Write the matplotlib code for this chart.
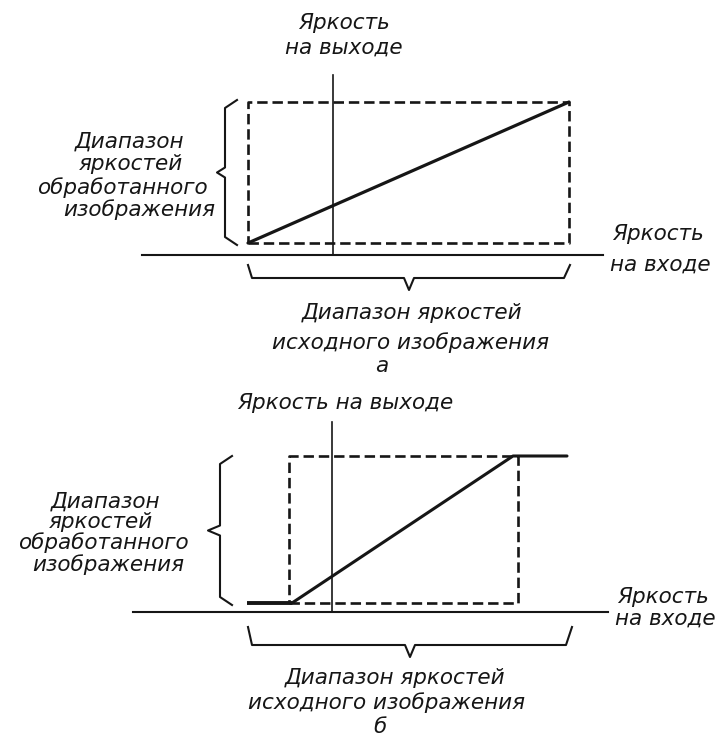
import matplotlib
matplotlib.use("Agg")
import matplotlib.pyplot as plt

plt.rcParams['font.family'] = ['DejaVu Sans']
plt.rcParams['lines.scale_dashes'] = False

INK = '#161616'

# ---------------- Diagram a: linear stretch ----------------
a_in_range = [248, 569]          # input brightness range (x)
a_out_range = [243, 102]         # processed output range (y: low, high)
a_curve_x = [248, 569]
a_curve_y = [243, 102]
a_haxis_x = [142, 603]
a_haxis_y = 255
a_vaxis_x = 333
a_vaxis_y = [75, 255]

# ---------------- Diagram b: stretch with clipping ----------------
b_in_range = [289, 518]
b_out_range = [603, 456]
b_curve_x = [247, 292, 513, 567]
b_curve_y = [603, 603, 456, 456]
b_haxis_x = [133, 608]
b_haxis_y = 612
b_vaxis_x = 332
b_vaxis_y = [422, 612]
b_brace_in = [248, 572]

# ---------------- Text ----------------
a_top_lines = ["Яркость", "на выходе"]
a_left_lines = ["Диапазон", "яркостей", "обработанного", "изображения"]
a_right_lines = ["Яркость", "на входе"]
a_bottom_lines = ["Диапазон яркостей", "исходного изображения"]
a_letter = "а"

b_top_lines = ["Яркость на выходе"]
b_left_lines = ["Диапазон", "яркостей", "обработанного", "изображения"]
b_right_lines = ["Яркость", "на входе"]
b_bottom_lines = ["Диапазон яркостей", "исходного изображения"]
b_letter = "б"

fig = plt.figure(figsize=(7.2, 7.39), dpi=100)
ax = fig.add_axes([0, 0, 1, 1])
ax.set_xlim(0, 720)
ax.set_ylim(739, 0)
ax.axis('off')

DASH = (0, (7.5, 3.5))


def dashed_rect(xr, yr):
    x0, x1 = xr
    yl, yh = yr
    ax.plot([x0, x1, x1, x0, x0], [yl, yl, yh, yh, yl], color=INK, lw=1.9,
            linestyle=DASH, solid_capstyle='butt')


def vbrace(x, y_top, y_bot, depth=8, hook=12):
    ym = (y_top + y_bot) / 2
    xs = [x + hook, x, x, x - depth, x, x, x + hook]
    ys = [y_top - 2, y_top + 6, ym - 5, ym, ym + 5, y_bot - 6, y_bot + 2]
    ax.plot(xs, ys, color=INK, lw=1.5, solid_joinstyle='round')


def hbrace(x0, x1, y_top, drop=13, tip=12):
    xm = (x0 + x1) / 2
    yb = y_top + drop
    xs = [x0, x0 + 4, xm - 5, xm, xm + 5, x1 - 6, x1]
    ys = [y_top, yb, yb, yb + tip, yb, yb, y_top]
    ax.plot(xs, ys, color=INK, lw=1.5, solid_joinstyle='round')


def text(x, y, s, ha='center', size=15.5):
    ax.text(x, y, s, ha=ha, va='center', fontsize=size, style='oblique',
            color=INK)

# ----- Diagram a -----
ax.plot(a_haxis_x, [a_haxis_y, a_haxis_y], color=INK, lw=1.5)
ax.plot([a_vaxis_x, a_vaxis_x], a_vaxis_y, color=INK, lw=1.2)
dashed_rect(a_in_range, a_out_range)
ax.plot(a_curve_x, a_curve_y, color=INK, lw=2.3, solid_capstyle='round')
vbrace(225, a_out_range[1], a_out_range[0])
hbrace(a_in_range[0], a_in_range[1] + 1, 265)

for s, y in zip(a_top_lines, [23, 48]):
    text(344, y, s)
for s, x, y in zip(a_left_lines, [130, 131, 122, 139], [142, 164, 188, 210]):
    text(x, y, s)
for s, x, y in zip(a_right_lines, [612, 610], [234, 265]):
    text(x, y, s, ha='left')
for s, x, y in zip(a_bottom_lines, [412, 410], [313, 343]):
    text(x, y, s)
text(382, 366, a_letter)

# ----- Diagram b -----
ax.plot(b_haxis_x, [b_haxis_y, b_haxis_y], color=INK, lw=1.5)
ax.plot([b_vaxis_x, b_vaxis_x], b_vaxis_y, color=INK, lw=1.2)
dashed_rect(b_in_range, b_out_range)
ax.plot(b_curve_x[:2], b_curve_y[:2], color=INK, lw=2.8, solid_capstyle='butt')
ax.plot(b_curve_x[1:], b_curve_y[1:], color=INK, lw=2.2, solid_capstyle='round',
        solid_joinstyle='round')
vbrace(220, 458, b_out_range[0], depth=12)
hbrace(b_brace_in[0], b_brace_in[1], 627, drop=18)

for s, y in zip(b_top_lines, [403]):
    text(345, y, s)
for s, x, y in zip(b_left_lines, [106, 101, 103, 108], [502, 522, 543, 565]):
    text(x, y, s)
for s, x, y in zip(b_right_lines, [617, 615], [597, 619]):
    text(x, y, s, ha='left')
for s, x, y in zip(b_bottom_lines, [395, 386], [678, 703]):
    text(x, y, s)
text(380, 727, b_letter)

fig.savefig("out.png", dpi=100, facecolor='white')
